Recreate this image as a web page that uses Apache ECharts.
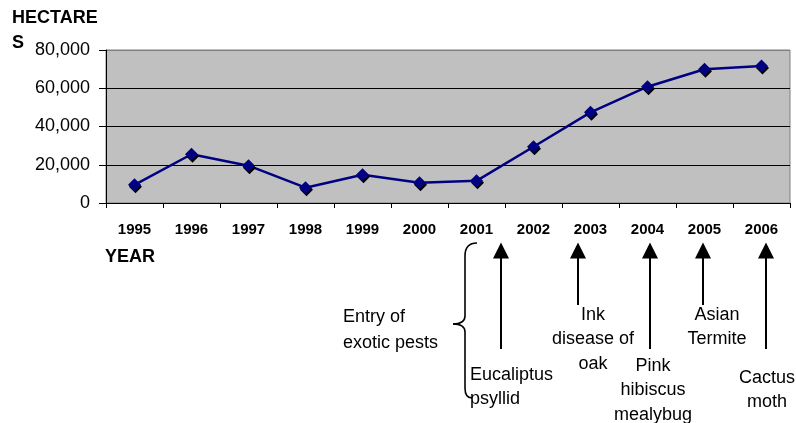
<!DOCTYPE html>
<html>
<head>
<meta charset="utf-8">
<title>Hectares by year</title>
<script src="https://cdn.jsdelivr.net/npm/echarts@6/dist/echarts.min.js"></script>
<style>
  html, body { margin: 0; padding: 0; background: #fff; }
  #chart { width: 796px; height: 423px; }
</style>
</head>
<body>
<div id="chart"></div>
<script>
// Area affected per year
const years = ['1995', '1996', '1997', '1998', '1999', '2000', '2001', '2002', '2003', '2004', '2005', '2006'];
const hectares = [9500, 25500, 19500, 8000, 14800, 10600, 11600, 29400, 47400, 60800, 69900, 71600];

// Value axis range
const yMin = 0;
const yMax = 80000;
const yStep = 20000;

// Exotic pests and the labels printed under each arrow
const pestLabels = [
  ['Eucaliptus', 'psyllid'],
  ['Ink', 'disease of', 'oak'],
  ['Pink', 'hibiscus', 'mealybug'],
  ['Asian', 'Termite'],
  ['Cactus', 'moth']
];
const braceLabel = ['Entry of', 'exotic pests'];

const FONT = '"Liberation Sans", Arial, sans-serif';

const chart = echarts.init(document.getElementById('chart'), null, { renderer: 'canvas' });

function fmt(v) {
  return v.toLocaleString('en-US');
}

// Annotation layout: arrow x, shaft bottom, text anchor and alignment
const arrowLayout = [
  { x: 501, bottom: 349, tx: 470, ty: 375, align: 'left' },
  { x: 578, bottom: 305, tx: 593, ty: 315, align: 'center' },
  { x: 650, bottom: 349, tx: 653, ty: 366, align: 'center' },
  { x: 703, bottom: 305, tx: 717, ty: 315, align: 'center' },
  { x: 766, bottom: 349, tx: 767, ty: 378, align: 'center' }
];
const LINE_GAP = 24.5;
const ARROW_TIP = 242.5;
const HEAD_H = 16;
const HEAD_HALF = 8;

function textEl(str, x, y, opts) {
  return {
    type: 'text',
    x: x,
    y: y,
    silent: true,
    style: Object.assign({
      text: str,
      fill: '#000',
      font: '18px ' + FONT,
      textAlign: 'center',
      textVerticalAlign: 'middle'
    }, opts || {})
  };
}

const braceStyle = { stroke: '#000', lineWidth: 1.6, fill: null };

function curve(x1, y1, cx, cy, x2, y2) {
  return {
    type: 'bezierCurve',
    silent: true,
    shape: { x1: x1, y1: y1, cpx1: cx, cpy1: cy, x2: x2, y2: y2 },
    style: braceStyle
  };
}

function segment(x1, y1, x2, y2) {
  return {
    type: 'line',
    silent: true,
    shape: { x1: x1, y1: y1, x2: x2, y2: y2 },
    style: braceStyle
  };
}

function buildGraphics() {
  const els = [];
  // Axis titles
  els.push(textEl('HECTARE', 12, 18, { font: 'bold 18px ' + FONT, textAlign: 'left' }));
  els.push(textEl('S', 12, 43, { font: 'bold 18px ' + FONT, textAlign: 'left' }));
  els.push(textEl('YEAR', 105, 257, { font: 'bold 18px ' + FONT, textAlign: 'left' }));

  // Arrows and pest names
  pestLabels.forEach(function (lines, i) {
    const a = arrowLayout[i];
    els.push({
      type: 'polygon',
      silent: true,
      shape: { points: [[a.x, ARROW_TIP], [a.x - HEAD_HALF, ARROW_TIP + HEAD_H], [a.x + HEAD_HALF, ARROW_TIP + HEAD_H]] },
      style: { fill: '#000' }
    });
    els.push({
      type: 'line',
      silent: true,
      shape: { x1: a.x, y1: ARROW_TIP + HEAD_H - 1, x2: a.x, y2: a.bottom },
      style: { stroke: '#000', lineWidth: 2 }
    });
    lines.forEach(function (s, j) {
      els.push(textEl(s, a.tx, a.ty + j * LINE_GAP, { textAlign: a.align }));
    });
  });

  // Curly brace grouping the entries
  els.push(curve(477, 243, 465, 243, 465, 256));
  els.push(segment(465, 256, 465, 316));
  els.push(curve(465, 316, 465, 324, 453, 324));
  els.push(curve(453, 324, 465, 324, 465, 332));
  els.push(segment(465, 332, 465, 388));
  els.push(curve(465, 388, 465, 398, 472, 398));

  braceLabel.forEach(function (s, j) {
    els.push(textEl(s, 343, 317 + j * 26, { textAlign: 'left' }));
  });
  return els;
}

const option = {
  animation: false,
  backgroundColor: '#fff',
  grid: {
    left: 106,
    right: 6,
    top: 50,
    bottom: 220,
    show: true,
    backgroundColor: '#c0c0c0',
    borderColor: '#808080',
    borderWidth: 1
  },
  xAxis: {
    type: 'category',
    data: years,
    boundaryGap: true,
    axisLine: { show: true, lineStyle: { color: '#000', width: 1 } },
    axisTick: { show: true, alignWithLabel: false, length: 5, lineStyle: { color: '#000' } },
    axisLabel: {
      color: '#000',
      fontFamily: FONT,
      fontWeight: 'bold',
      fontSize: 15,
      margin: 19,
      interval: 0
    },
    splitLine: { show: false }
  },
  yAxis: {
    type: 'value',
    min: yMin,
    max: yMax,
    interval: yStep,
    axisLine: { show: true, lineStyle: { color: '#000', width: 1 } },
    axisTick: { show: true, length: 7, lineStyle: { color: '#000' } },
    axisLabel: {
      color: '#000',
      fontFamily: FONT,
      fontSize: 18,
      margin: 16,
      formatter: fmt
    },
    splitLine: {
      show: true,
      lineStyle: { color: ['#000', '#000', '#000', '#000', '#808080'], width: 1 }
    }
  },
  series: [{
    type: 'line',
    data: hectares,
    symbol: 'diamond',
    symbolSize: 13,
    lineStyle: { color: '#000080', width: 2.5 },
    itemStyle: {
      color: '#000080',
      shadowColor: '#000',
      shadowBlur: 0,
      shadowOffsetX: 1,
      shadowOffsetY: 2
    },
    z: 3
  }],
  graphic: buildGraphics()
};

chart.setOption(option);
</script>
</body>
</html>
